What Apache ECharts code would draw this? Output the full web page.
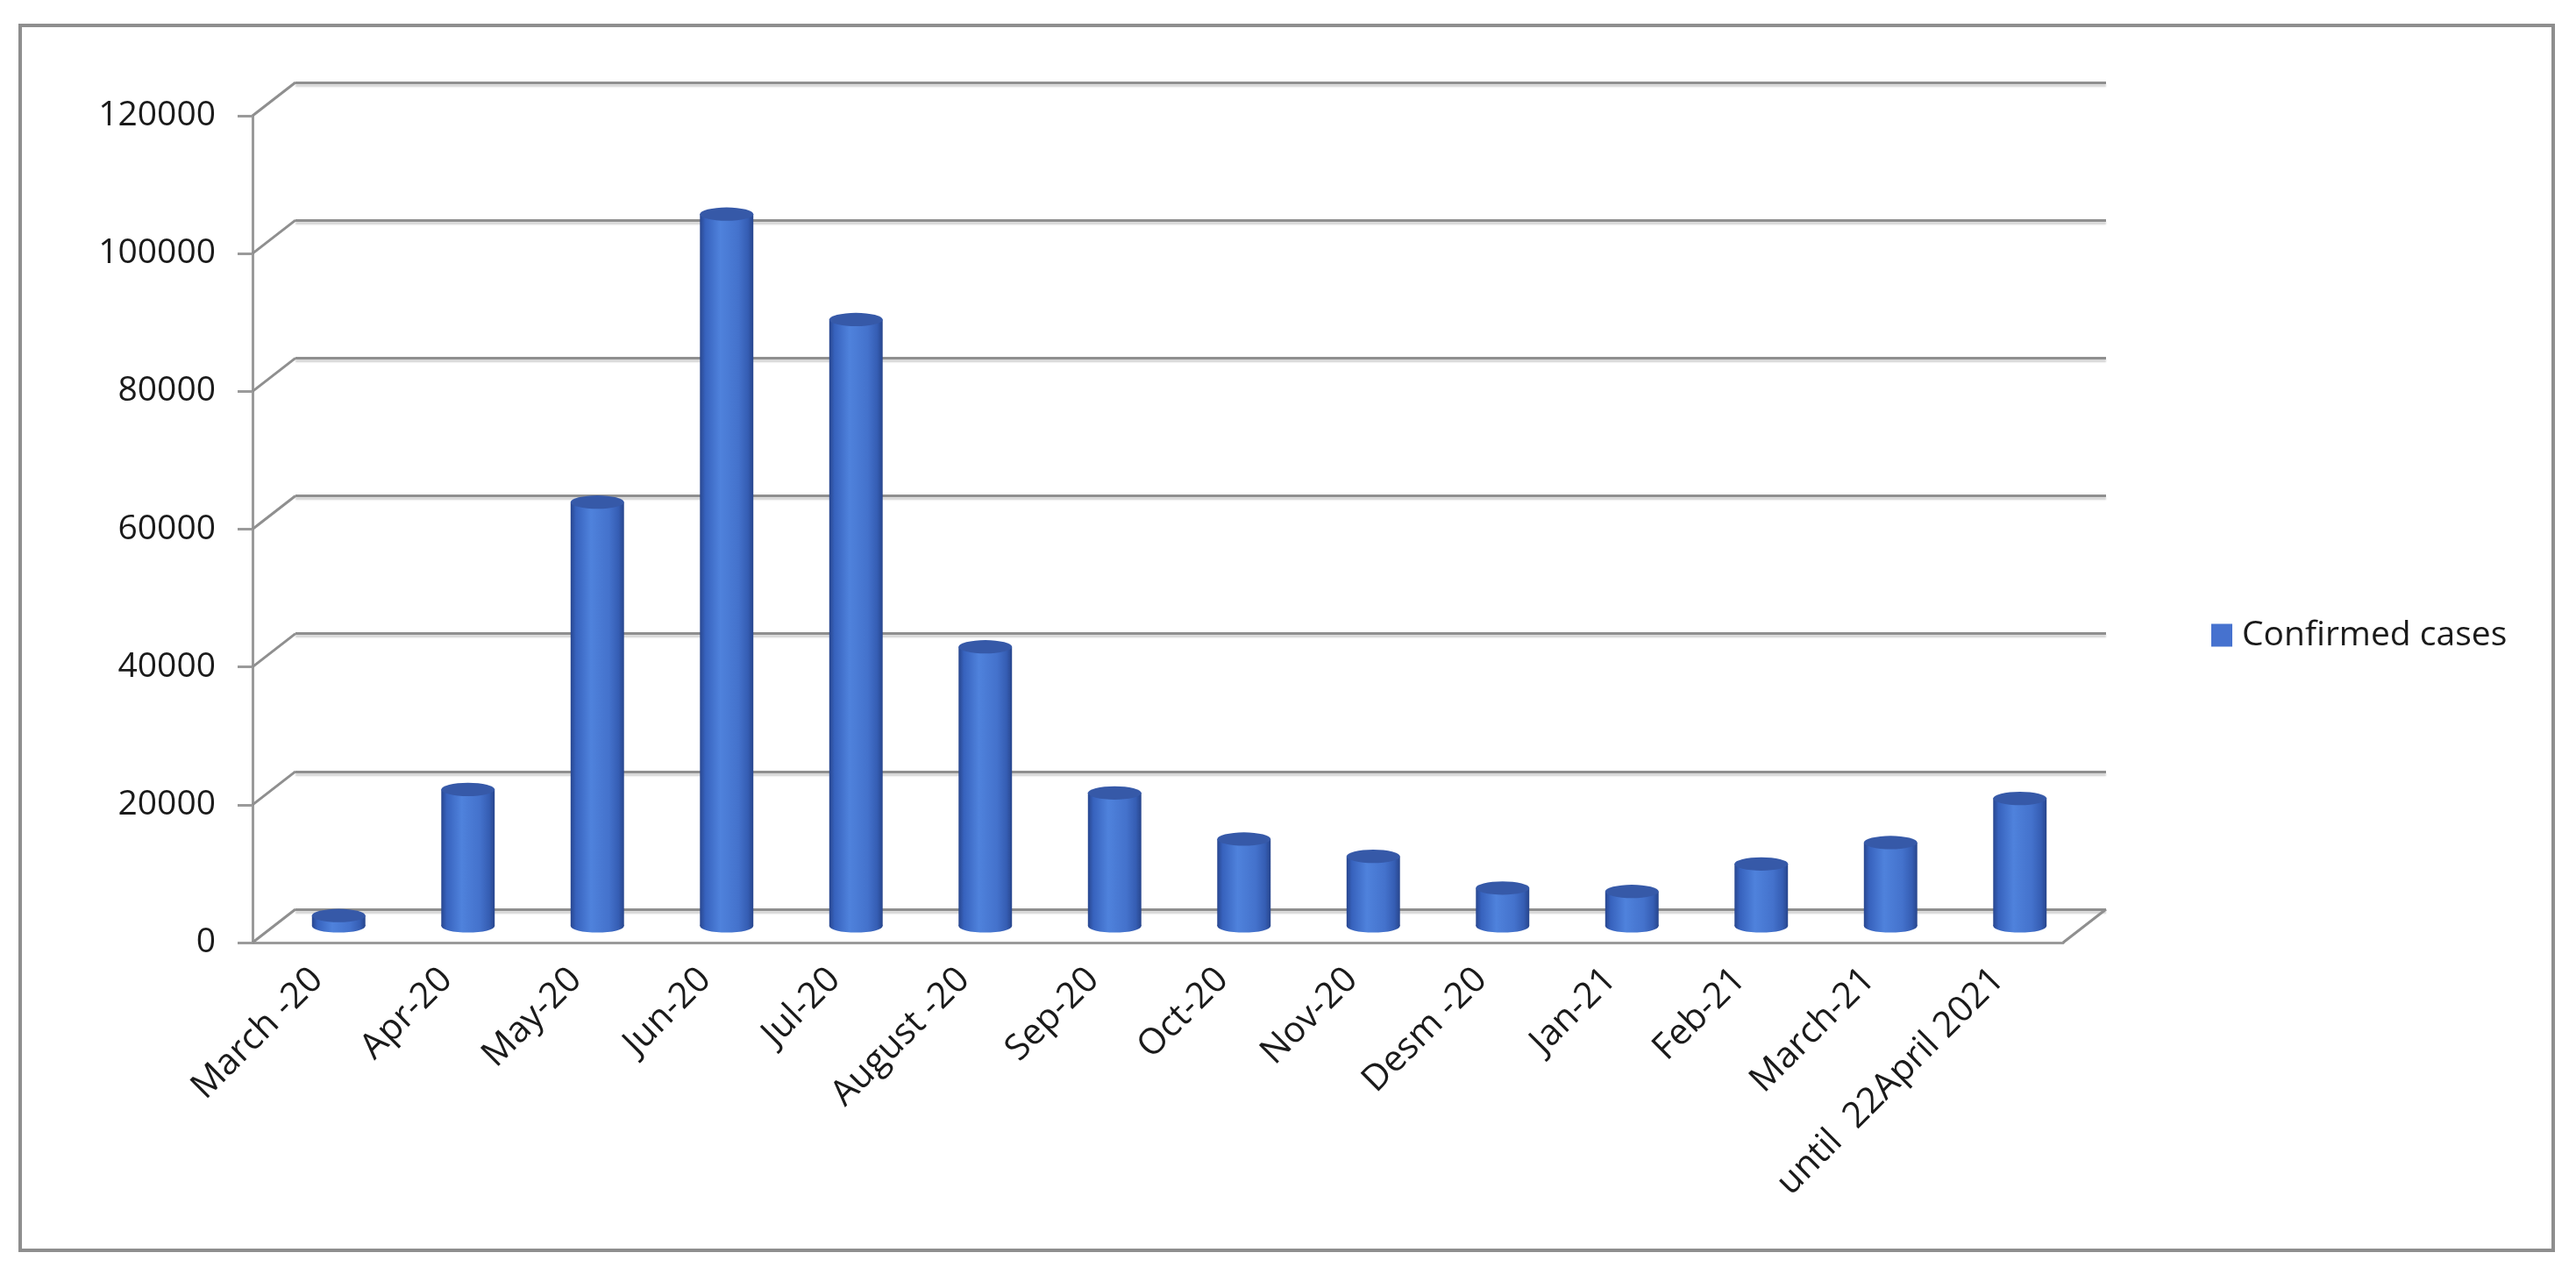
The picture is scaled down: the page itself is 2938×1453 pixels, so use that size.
<!DOCTYPE html>
<html>
<head>
<meta charset="utf-8">
<title>Confirmed cases</title>
<script src="https://cdn.jsdelivr.net/npm/echarts@6/dist/echarts.min.js"></script>
<style>
  html, body { margin: 0; padding: 0; background: #fff; }
  #main { width: 2938px; height: 1453px; }
</style>
</head>
<body>
<div id="main"></div>
<script>
// data
var categories = ['March -20', 'Apr-20', 'May-20', 'Jun-20', 'Jul-20', 'August -20', 'Sep-20',
  'Oct-20', 'Nov-20', 'Desm -20', 'Jan-21', 'Feb-21', 'March-21', 'until  22April 2021'];
var cases = [1500, 19800, 61500, 103300, 88000, 40500, 19300, 12600, 10100, 5500, 5000, 9000, 12100, 18500];
var yTicks = [0, 20000, 40000, 60000, 80000, 100000, 120000];
var seriesName = 'Confirmed cases';

// layout of the fake 3d box (front plane, back wall, depth in between)
var W = 2065, H = 943;
var FRONT = { left: 288, top: 132 };
var DX = 49, DY = -38;
var BACK = { left: FRONT.left + DX, top: FRONT.top + DY };
var MID = { left: FRONT.left + DX / 2, top: FRONT.top + DY / 2 };

var FONT = 'Open Sans';
var LINE = '#8f8f8f';

var chart = echarts.init(document.getElementById('main'));

function hiddenX(i) {
  return { type: 'category', gridIndex: i, data: categories, show: false };
}
function hiddenY(i, split) {
  return {
    type: 'value', gridIndex: i, min: yTicks[0], max: yTicks[yTicks.length - 1], interval: 20000,
    axisLine: { show: false }, axisTick: { show: false }, axisLabel: { show: false },
    splitLine: split ? {
      show: true,
      lineStyle: { color: LINE, width: 3, shadowColor: 'rgba(0,0,0,0.18)', shadowBlur: 2, shadowOffsetY: 3 }
    } : { show: false }
  };
}

var bodyFill = new echarts.graphic.LinearGradient(0, 0, 1, 0, [
  { offset: 0, color: '#28468f' },
  { offset: 0.1, color: '#3762bd' },
  { offset: 0.38, color: '#4f82dc' },
  { offset: 0.72, color: '#4472cc' },
  { offset: 0.9, color: '#355db3' },
  { offset: 1, color: '#27458c' }
]);

function cylinder(params, api) {
  var i = api.value(0);
  var top = api.coord([i, api.value(1)]);
  var base = api.coord([i, 0]);
  var rx = api.size([1, 0])[0] * 0.413 / 2;
  var k = 0.25;
  return {
    type: 'group',
    children: [
      { type: 'circle', x: base[0], y: base[1], scaleY: k, shape: { cx: 0, cy: 0, r: rx }, style: { fill: bodyFill } },
      { type: 'rect', shape: { x: top[0] - rx, y: top[1], width: rx * 2, height: base[1] - top[1] }, style: { fill: bodyFill } },
      { type: 'circle', x: top[0], y: top[1], scaleY: k, shape: { cx: 0, cy: 0, r: rx }, style: { fill: '#3659a8' } }
    ]
  };
}

var option = {
  backgroundColor: '#ffffff',
  color: ['#4672cf'],
  animation: false,
  textStyle: { fontFamily: FONT },
  legend: {
    data: [seriesName],
    left: 2522, top: 705, padding: 0,
    icon: 'rect', itemWidth: 24, itemHeight: 26,
    textStyle: { fontFamily: FONT, fontSize: 39, color: '#1a1a1a', padding: [0, 0, 0, 6] }
  },
  grid: [
    { left: FRONT.left, top: FRONT.top, width: W, height: H },
    { left: BACK.left, top: BACK.top, width: W, height: H },
    { left: MID.left, top: MID.top, width: W, height: H }
  ],
  xAxis: [
    {
      type: 'category', gridIndex: 0, data: categories,
      axisLine: { lineStyle: { color: '#9a9a9a', width: 3 } },
      axisTick: { length: 17, lineStyle: { color: '#9a9a9a', width: 3 } },
      axisLabel: { interval: 0, rotate: 45, margin: 36, fontFamily: FONT, fontSize: 41, color: '#1a1a1a' }
    },
    hiddenX(1),
    hiddenX(2)
  ],
  yAxis: [
    {
      type: 'value', gridIndex: 0, min: yTicks[0], max: yTicks[yTicks.length - 1], interval: 20000,
      axisLine: { show: true, lineStyle: { color: '#9a9a9a', width: 3 } },
      axisTick: { show: true, length: 17, lineStyle: { color: '#9a9a9a', width: 3 } },
      axisLabel: {
        margin: 42, fontFamily: FONT, fontSize: 39, color: '#1a1a1a',
        formatter: function (v) { return String(v); }
      },
      splitLine: { show: false }
    },
    hiddenY(1, true),
    hiddenY(2, false)
  ],
  series: [{
    name: seriesName,
    type: 'custom',
    xAxisIndex: 2,
    yAxisIndex: 2,
    renderItem: cylinder,
    encode: { x: 0, y: 1 },
    data: cases.map(function (v, i) { return [i, v]; })
  }]
};

chart.setOption(option);

// side wall and floor edges of the box, plus the outer frame
var edges = [];
yTicks.forEach(function (v) {
  var yf = chart.convertToPixel({ yAxisIndex: 0 }, v);
  var yb = chart.convertToPixel({ yAxisIndex: 1 }, v);
  edges.push({
    type: 'line', z: 1,
    shape: { x1: FRONT.left, y1: yf, x2: BACK.left, y2: yb },
    style: { stroke: LINE, lineWidth: 3 }
  });
});
var y0f = chart.convertToPixel({ yAxisIndex: 0 }, 0);
var y0b = chart.convertToPixel({ yAxisIndex: 1 }, 0);
edges.push({
  type: 'line', z: 1,
  shape: { x1: FRONT.left + W, y1: y0f, x2: BACK.left + W, y2: y0b },
  style: { stroke: LINE, lineWidth: 3 }
});
edges.push({
  type: 'rect', z: 0,
  shape: { x: 23, y: 29, width: 2889, height: 1397 },
  style: { fill: null, stroke: '#8e8e8e', lineWidth: 4 }
});

chart.setOption({ graphic: edges });
</script>
</body>
</html>
